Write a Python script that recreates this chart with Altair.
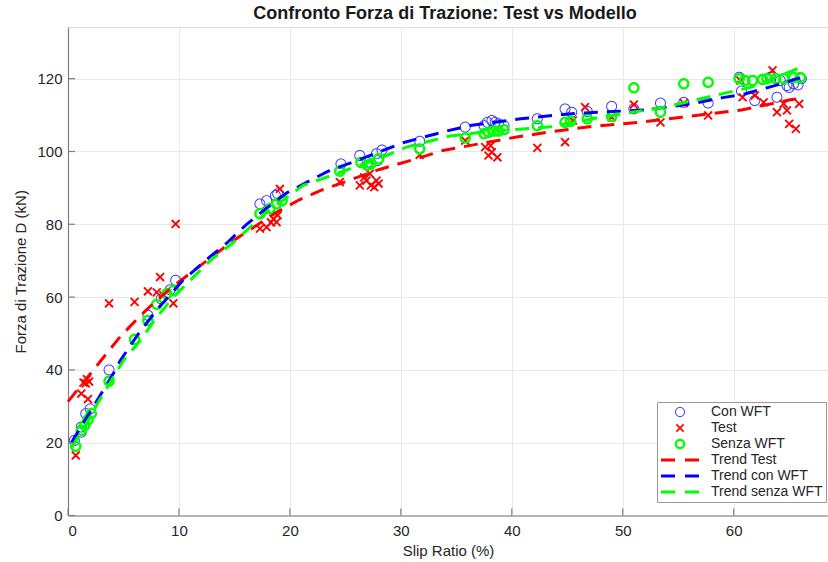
import math
import altair as alt
import pandas as pd

# ---------------- data ----------------
con_x = [0.57, 1.2, 1.2, 1.6, 2.0, 3.7, 7.2, 8.4, 9.2, 9.7, 17.3, 17.9, 18.7, 18.9,
         24.6, 26.3, 27.0, 27.8, 27.9, 28.3, 31.7, 35.8, 37.5, 37.8, 38.2, 38.5, 38.8,
         39.3, 42.3, 44.8, 45.4, 46.8, 49.0, 51.0, 53.4, 55.5, 57.7, 60.5, 60.7, 61.9,
         63.3, 63.9, 64.2, 64.8, 65.0, 65.4, 65.8, 66.1]
con_y = [20.6, 22.9, 24.3, 28.0, 29.3, 40.0, 55.0, 59.5, 62.0, 64.6, 85.6, 86.5, 87.9, 88.4,
         96.6, 98.9, 97.0, 99.4, 97.5, 100.4, 102.8, 106.7, 107.1, 108.0, 108.5, 108.0, 107.6,
         107.1, 109.0, 111.7, 110.8, 111.0, 112.4, 111.7, 113.3, 113.5, 113.3, 120.4, 116.6, 114.0,
         120.4, 114.9, 119.5, 118.1, 117.6, 118.6, 118.3, 120.0]

test_x = [0.7, 1.2, 1.4, 1.6, 1.7, 1.9, 1.8, 3.7, 6.0, 7.2, 8.0, 8.3, 8.6, 9.5, 9.7,
          17.3, 17.9, 18.3, 18.5, 18.8, 18.9, 19.1, 24.5, 26.3, 26.7, 26.9, 27.2, 27.3,
          27.6, 27.8, 28.0, 31.7, 35.8, 37.6, 37.9, 38.1, 38.2, 38.7, 42.3, 44.8, 45.5,
          46.6, 49.0, 51.0, 53.4, 55.5, 57.7, 60.6, 60.8, 61.9, 62.7, 63.5, 63.9, 64.5,
          64.8, 65.0, 65.6, 65.9]
test_y = [16.5, 33.5, 36.5, 36.3, 37.5, 36.8, 32.0, 58.3, 58.7, 61.6, 61.3, 65.5, 60.5, 58.3, 80.1,
          78.8, 79.2, 80.5, 81.5, 80.6, 82.5, 89.7, 91.6, 90.7, 92.9, 92.0, 93.9, 90.7,
          90.2, 92.0, 91.2, 99.1, 103.0, 101.2, 98.9, 101.6, 99.8, 98.4, 101.0, 102.6, 108.5,
          112.2, 109.4, 112.9, 108.0, 113.3, 109.9, 119.5, 114.9, 115.4, 113.5, 122.3, 110.8, 113.1,
          111.3, 107.6, 106.2, 113.1]

senza_x = [0.7, 1.2, 1.5, 1.8, 2.1, 3.7, 6.0, 7.2, 8.0, 8.9, 9.5, 17.3, 18.2, 18.8, 19.3,
           24.5, 26.4, 27.0, 27.3, 28.0, 31.7, 35.8, 37.5, 37.9, 38.4, 38.8, 39.3, 42.3,
           44.8, 45.3, 46.8, 49.0, 51.0, 53.4, 55.5, 57.7, 60.5, 61.0, 61.7, 62.6, 63.0,
           63.8, 64.5, 65.4, 66.0]
senza_y = [19.0, 23.4, 24.7, 26.3, 28.0, 36.9, 48.4, 53.6, 58.0, 60.9, 61.8, 82.9, 84.3, 85.6, 86.5,
           94.6, 97.0, 96.2, 96.6, 98.0, 100.7, 103.7, 104.9, 105.3, 105.6, 105.6, 106.0, 107.1,
           108.0, 108.3, 109.0, 109.6, 117.5, 110.8, 118.6, 119.0, 120.0, 119.5, 119.5, 119.8, 120.0,
           120.0, 120.0, 120.3, 120.3]

trend_test_x = [0, 2.9, 4.7, 6.3, 8.0, 9.6, 11.6, 13.2, 15.0, 16.8, 18.8, 20.9, 22.8, 24.9,
                28.0, 31.4, 33.8, 35.8, 40.3, 43.3, 47.2, 49.3, 51.4, 55.3, 60.7, 65.1, 66.0]
trend_test_y = [31.3, 42.3, 49.1, 54.2, 59.2, 63.3, 67.9, 71.6, 75.7, 79.3, 83.3, 86.8, 89.3, 91.6,
                95.0, 98.0, 100.3, 101.4, 103.9, 105.3, 106.9, 107.4, 108.0, 109.4, 111.4, 114.2, 114.6]

trend_con_x = [0.3, 1.0, 2.0, 3.0, 4.0, 4.7, 6.2, 8.0, 10.4, 12.8, 14.3, 16.1, 17.8, 19.7,
               21.8, 23.6, 25.7, 28.4, 30.2, 32.0, 34.1, 36.4, 40.8, 45.4, 47.8, 52.0, 56.2,
               59.0, 61.0, 63.7, 65.7, 66.0]
trend_con_y = [20.0, 23.5, 28.5, 33.5, 38.5, 42.5, 49.3, 56.5, 64.7, 71.1, 74.8, 80.0, 84.2, 88.6,
               92.0, 94.8, 97.1, 100.3, 102.4, 103.9, 105.6, 107.2, 109.0, 110.4, 110.8, 111.4, 113.1,
               114.8, 115.8, 118.1, 120.0, 120.2]

trend_senza_x = [0.3, 1.0, 2.0, 2.7, 3.5, 5.0, 6.5, 8.0, 9.5, 11.3, 13.0, 14.9, 17.9, 21.2,
                 24.2, 28.7, 30.5, 34.3, 38.2, 43.3, 47.8, 53.8, 58.3, 61.6, 65.7, 66.2]
trend_senza_y = [18.5, 22.0, 27.0, 31.0, 35.0, 42.6, 48.0, 54.5, 60.0, 65.5, 70.5, 75.0, 83.3, 90.7,
                 93.9, 98.9, 101.2, 104.2, 105.6, 106.7, 109.3, 112.2, 115.4, 117.7, 122.7, 123.3]

series_names = ["Con WFT", "Test", "Senza WFT", "Trend Test", "Trend con WFT", "Trend senza WFT"]
x_ticks = [0, 10, 20, 30, 40, 50, 60]
y_ticks = [0, 20, 40, 60, 80, 100, 120]

# ---------------- marker shapes (style only) ----------------
def _poly(pts):
    return "M" + "L".join(f"{a:.3f},{b:.3f}" for a, b in pts) + "Z"

def ring(ro, ri, n=40):
    outer = [(ro * math.cos(2 * math.pi * k / n), ro * math.sin(2 * math.pi * k / n)) for k in range(n)]
    inner = [(ri * math.cos(-2 * math.pi * k / n), ri * math.sin(-2 * math.pi * k / n)) for k in range(n)]
    return _poly(outer) + _poly(inner)

def xmark(half=0.72, t=0.17):
    paths = []
    for d in [(1, 1), (1, -1)]:
        dx, dy = d[0] / math.sqrt(2), d[1] / math.sqrt(2)
        nx, ny = -dy, dx
        L = half * math.sqrt(2)
        pts = [(L * dx + t * nx, L * dy + t * ny), (-L * dx + t * nx, -L * dy + t * ny),
               (-L * dx - t * nx, -L * dy - t * ny), (L * dx - t * nx, L * dy - t * ny)]
        paths.append(_poly(pts))
    return "".join(paths)

dash = "M-3.8,-0.3L-1,-0.3L-1,0.3L-3.8,0.3ZM1,-0.3L3.8,-0.3L3.8,0.3L1,0.3Z"
shapes = [ring(1.0, 0.82), xmark(), ring(1.05, 0.62), dash, dash, dash]
colors = ["#3a3aff", "#ff0000", "#00ff00", "#ff0000", "#0000ff", "#00ff00"]

# ---------------- tables ----------------
pts = pd.concat([
    pd.DataFrame({"x": con_x, "y": con_y, "series": "Con WFT"}),
    pd.DataFrame({"x": test_x, "y": test_y, "series": "Test"}),
    pd.DataFrame({"x": senza_x, "y": senza_y, "series": "Senza WFT"}),
], ignore_index=True)
pts["order"] = range(len(pts))

lines = pd.concat([
    pd.DataFrame({"x": trend_test_x, "y": trend_test_y, "series": "Trend Test"}),
    pd.DataFrame({"x": trend_con_x, "y": trend_con_y, "series": "Trend con WFT"}),
    pd.DataFrame({"x": trend_senza_x, "y": trend_senza_y, "series": "Trend senza WFT"}),
], ignore_index=True)

FONT = "Liberation Sans, Arial, Helvetica, sans-serif"
TXT = "#262626"

x_enc = alt.X("x:Q", title="Slip Ratio (%)",
              scale=alt.Scale(domain=[0, 68.5], nice=False, zero=False),
              axis=alt.Axis(values=x_ticks, grid=True, tickSize=0, labelPadding=8,
                            titlePadding=5, domainColor="#7f7f7f", domainWidth=1.2,
                            gridColor="#e8e8e8", labelColor=TXT, titleColor=TXT,
                            labelFontSize=15, titleFontSize=15, labelFont=FONT,
                            titleFont=FONT, titleFontWeight="normal"))
y_enc = alt.Y("y:Q", title="Forza di Trazione D (kN)",
              scale=alt.Scale(domain=[0, 134.2], nice=False, zero=False),
              axis=alt.Axis(values=y_ticks, grid=True, tickSize=0, labelPadding=6,
                            titlePadding=8, domainColor="#7f7f7f", domainWidth=1.2,
                            gridColor="#e8e8e8", labelColor=TXT, titleColor=TXT,
                            labelFontSize=15, titleFontSize=15, labelFont=FONT,
                            titleFont=FONT, titleFontWeight="normal"))

legend = alt.Legend(title=None, orient="none", legendX=589, legendY=375,
                    direction="vertical", fillColor="white", strokeColor="#9a9a9a",
                    padding=3, labelFont=FONT, labelFontSize=14, labelColor=TXT,
                    symbolSize=100, symbolStrokeWidth=0, symbolOffset=13,
                    labelOffset=24, rowPadding=2, cornerRadius=0)

color = alt.Color("series:N", scale=alt.Scale(domain=series_names, range=colors), legend=legend)
shape = alt.Shape("series:N", scale=alt.Scale(domain=series_names, range=shapes), legend=legend)

points = alt.Chart(pts).mark_point(filled=True, size=121, strokeWidth=0, opacity=1).encode(
    x=x_enc, y=y_enc, color=color, shape=shape, order=alt.Order("order:Q"))

trend = alt.Chart(lines).mark_line(strokeWidth=3, strokeDash=[14, 9]).encode(
    x=x_enc, y=y_enc, color=color)

xt = alt.Chart(pd.DataFrame({"x": x_ticks})).mark_rule(color="#7f7f7f", strokeWidth=1.2).encode(
    x=x_enc, y=alt.value(488.5), y2=alt.value(481.5))
yt = alt.Chart(pd.DataFrame({"y": y_ticks})).mark_rule(color="#7f7f7f", strokeWidth=1.2).encode(
    y=y_enc, x=alt.value(0), x2=alt.value(7))

chart = alt.layer(points, trend, xt, yt).properties(
    width=760, height=488.5,
    autosize=alt.AutoSizeParams(type="none"),
    padding={"left": 68, "top": 27, "right": 0, "bottom": 46.5},
    title=alt.Title("Confronto Forza di Trazione: Test vs Modello", font=FONT, fontSize=18,
                    fontWeight="bold", color="#1a1a1a", anchor="middle", offset=4, dx=-3),
).configure_view(strokeWidth=0).configure(background="white")

chart.save("out.html", embed_options={"renderer": "svg", "actions": False})
